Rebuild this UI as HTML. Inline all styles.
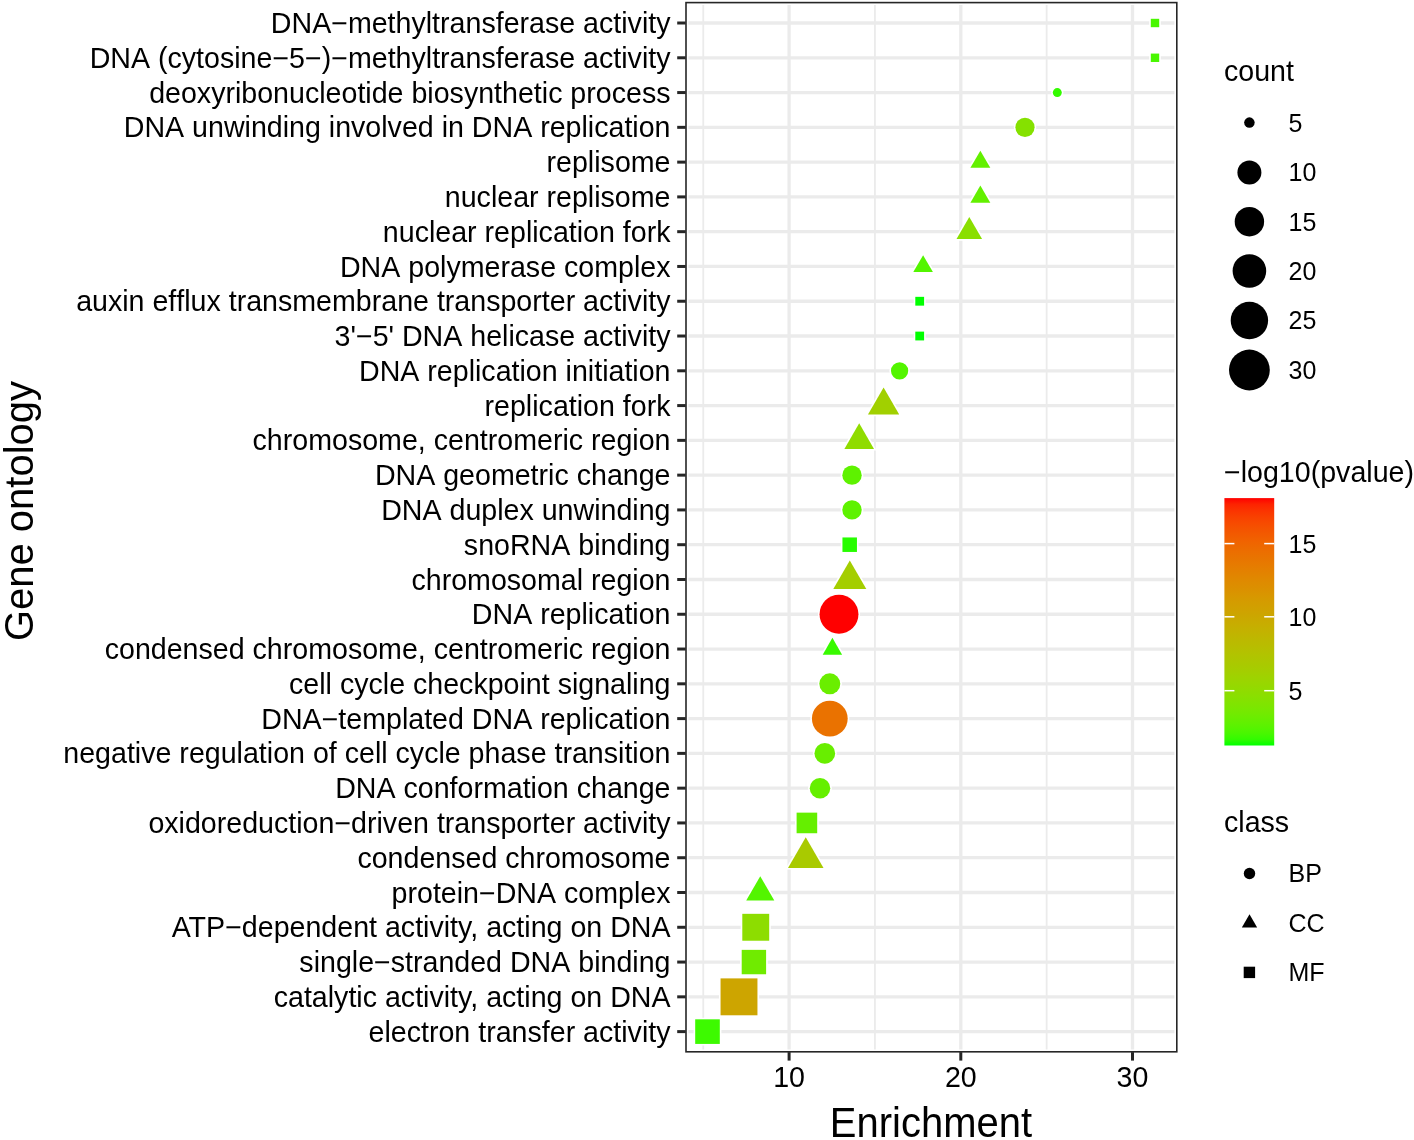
<!DOCTYPE html>
<html><head><meta charset="utf-8"><title>GO enrichment</title>
<style>html,body{margin:0;padding:0;background:#fff;width:1414px;height:1140px;overflow:hidden}svg{display:block;font-family:"Liberation Sans",sans-serif;will-change:transform;font-kerning:none;font-feature-settings:"kern" 0}</style>
</head><body><svg width="1414" height="1140" viewBox="0 0 1414 1140" font-family="'Liberation Sans', sans-serif" fill="#000"><defs><linearGradient id="cb" x1="0" y1="0" x2="0" y2="1"><stop offset="0.0000" stop-color="#ff0000"/><stop offset="0.0250" stop-color="#fd2300"/><stop offset="0.0500" stop-color="#fb3300"/><stop offset="0.0750" stop-color="#f94000"/><stop offset="0.1000" stop-color="#f74a00"/><stop offset="0.1250" stop-color="#f45300"/><stop offset="0.1500" stop-color="#f25b00"/><stop offset="0.1750" stop-color="#f06300"/><stop offset="0.2000" stop-color="#ed6a00"/><stop offset="0.2250" stop-color="#eb7000"/><stop offset="0.2500" stop-color="#e87600"/><stop offset="0.2750" stop-color="#e67c00"/><stop offset="0.3000" stop-color="#e38200"/><stop offset="0.3250" stop-color="#e08800"/><stop offset="0.3500" stop-color="#dd8d00"/><stop offset="0.3750" stop-color="#da9200"/><stop offset="0.4000" stop-color="#d79800"/><stop offset="0.4250" stop-color="#d39d00"/><stop offset="0.4500" stop-color="#d0a100"/><stop offset="0.4750" stop-color="#cca600"/><stop offset="0.5000" stop-color="#c9ab00"/><stop offset="0.5250" stop-color="#c5b000"/><stop offset="0.5500" stop-color="#c1b400"/><stop offset="0.5750" stop-color="#bcb900"/><stop offset="0.6000" stop-color="#b8bd00"/><stop offset="0.6250" stop-color="#b3c200"/><stop offset="0.6500" stop-color="#aec600"/><stop offset="0.6750" stop-color="#a9ca00"/><stop offset="0.7000" stop-color="#a4ce00"/><stop offset="0.7250" stop-color="#9ed300"/><stop offset="0.7500" stop-color="#98d700"/><stop offset="0.7750" stop-color="#91db00"/><stop offset="0.8000" stop-color="#8adf00"/><stop offset="0.8250" stop-color="#82e300"/><stop offset="0.8500" stop-color="#7ae700"/><stop offset="0.8750" stop-color="#70eb00"/><stop offset="0.9000" stop-color="#65ef00"/><stop offset="0.9250" stop-color="#59f300"/><stop offset="0.9500" stop-color="#49f700"/><stop offset="0.9750" stop-color="#33fb00"/><stop offset="1.0000" stop-color="#00ff00"/></linearGradient></defs><rect x="0" y="0" width="1414" height="1140" fill="#fff"/><line x1="703.25" y1="5.0" x2="703.25" y2="1049.3999999999999" stroke="#ebebeb" stroke-width="1.8"/><line x1="874.95" y1="5.0" x2="874.95" y2="1049.3999999999999" stroke="#ebebeb" stroke-width="1.8"/><line x1="1046.65" y1="5.0" x2="1046.65" y2="1049.3999999999999" stroke="#ebebeb" stroke-width="1.8"/><line x1="688.4000000000001" y1="23.00" x2="1174.3999999999999" y2="23.00" stroke="#ebebeb" stroke-width="3.3"/><line x1="688.4000000000001" y1="57.78" x2="1174.3999999999999" y2="57.78" stroke="#ebebeb" stroke-width="3.3"/><line x1="688.4000000000001" y1="92.56" x2="1174.3999999999999" y2="92.56" stroke="#ebebeb" stroke-width="3.3"/><line x1="688.4000000000001" y1="127.34" x2="1174.3999999999999" y2="127.34" stroke="#ebebeb" stroke-width="3.3"/><line x1="688.4000000000001" y1="162.12" x2="1174.3999999999999" y2="162.12" stroke="#ebebeb" stroke-width="3.3"/><line x1="688.4000000000001" y1="196.90" x2="1174.3999999999999" y2="196.90" stroke="#ebebeb" stroke-width="3.3"/><line x1="688.4000000000001" y1="231.68" x2="1174.3999999999999" y2="231.68" stroke="#ebebeb" stroke-width="3.3"/><line x1="688.4000000000001" y1="266.46" x2="1174.3999999999999" y2="266.46" stroke="#ebebeb" stroke-width="3.3"/><line x1="688.4000000000001" y1="301.24" x2="1174.3999999999999" y2="301.24" stroke="#ebebeb" stroke-width="3.3"/><line x1="688.4000000000001" y1="336.02" x2="1174.3999999999999" y2="336.02" stroke="#ebebeb" stroke-width="3.3"/><line x1="688.4000000000001" y1="370.80" x2="1174.3999999999999" y2="370.80" stroke="#ebebeb" stroke-width="3.3"/><line x1="688.4000000000001" y1="405.58" x2="1174.3999999999999" y2="405.58" stroke="#ebebeb" stroke-width="3.3"/><line x1="688.4000000000001" y1="440.36" x2="1174.3999999999999" y2="440.36" stroke="#ebebeb" stroke-width="3.3"/><line x1="688.4000000000001" y1="475.14" x2="1174.3999999999999" y2="475.14" stroke="#ebebeb" stroke-width="3.3"/><line x1="688.4000000000001" y1="509.92" x2="1174.3999999999999" y2="509.92" stroke="#ebebeb" stroke-width="3.3"/><line x1="688.4000000000001" y1="544.70" x2="1174.3999999999999" y2="544.70" stroke="#ebebeb" stroke-width="3.3"/><line x1="688.4000000000001" y1="579.48" x2="1174.3999999999999" y2="579.48" stroke="#ebebeb" stroke-width="3.3"/><line x1="688.4000000000001" y1="614.26" x2="1174.3999999999999" y2="614.26" stroke="#ebebeb" stroke-width="3.3"/><line x1="688.4000000000001" y1="649.04" x2="1174.3999999999999" y2="649.04" stroke="#ebebeb" stroke-width="3.3"/><line x1="688.4000000000001" y1="683.82" x2="1174.3999999999999" y2="683.82" stroke="#ebebeb" stroke-width="3.3"/><line x1="688.4000000000001" y1="718.60" x2="1174.3999999999999" y2="718.60" stroke="#ebebeb" stroke-width="3.3"/><line x1="688.4000000000001" y1="753.38" x2="1174.3999999999999" y2="753.38" stroke="#ebebeb" stroke-width="3.3"/><line x1="688.4000000000001" y1="788.16" x2="1174.3999999999999" y2="788.16" stroke="#ebebeb" stroke-width="3.3"/><line x1="688.4000000000001" y1="822.94" x2="1174.3999999999999" y2="822.94" stroke="#ebebeb" stroke-width="3.3"/><line x1="688.4000000000001" y1="857.72" x2="1174.3999999999999" y2="857.72" stroke="#ebebeb" stroke-width="3.3"/><line x1="688.4000000000001" y1="892.50" x2="1174.3999999999999" y2="892.50" stroke="#ebebeb" stroke-width="3.3"/><line x1="688.4000000000001" y1="927.28" x2="1174.3999999999999" y2="927.28" stroke="#ebebeb" stroke-width="3.3"/><line x1="688.4000000000001" y1="962.06" x2="1174.3999999999999" y2="962.06" stroke="#ebebeb" stroke-width="3.3"/><line x1="688.4000000000001" y1="996.84" x2="1174.3999999999999" y2="996.84" stroke="#ebebeb" stroke-width="3.3"/><line x1="688.4000000000001" y1="1031.62" x2="1174.3999999999999" y2="1031.62" stroke="#ebebeb" stroke-width="3.3"/><line x1="789.10" y1="5.0" x2="789.10" y2="1049.3999999999999" stroke="#ebebeb" stroke-width="3.3"/><line x1="960.80" y1="5.0" x2="960.80" y2="1049.3999999999999" stroke="#ebebeb" stroke-width="3.3"/><line x1="1132.50" y1="5.0" x2="1132.50" y2="1049.3999999999999" stroke="#ebebeb" stroke-width="3.3"/><rect x="1149.20" y="17.20" width="11.60" height="11.60" fill="#fff"/><rect x="1149.20" y="51.98" width="11.60" height="11.60" fill="#fff"/><circle cx="1057.30" cy="92.56" r="6.10" fill="#fff"/><circle cx="1025.00" cy="127.34" r="11.20" fill="#fff"/><polygon points="980.35,147.43 993.07,169.47 967.63,169.47" fill="#fff"/><polygon points="980.35,182.21 993.07,204.25 967.63,204.25" fill="#fff"/><polygon points="969.30,213.71 984.87,240.67 953.73,240.67" fill="#fff"/><polygon points="923.10,251.94 935.68,273.72 910.52,273.72" fill="#fff"/><rect x="913.70" y="295.24" width="12.00" height="12.00" fill="#fff"/><rect x="913.70" y="330.02" width="12.00" height="12.00" fill="#fff"/><circle cx="899.60" cy="370.80" r="10.25" fill="#fff"/><polygon points="883.60,384.34 901.99,416.20 865.21,416.20" fill="#fff"/><polygon points="859.20,420.05 876.79,450.51 841.61,450.51" fill="#fff"/><circle cx="852.00" cy="475.14" r="11.30" fill="#fff"/><circle cx="852.00" cy="509.92" r="11.30" fill="#fff"/><rect x="840.85" y="535.85" width="17.70" height="17.70" fill="#fff"/><polygon points="849.80,557.23 869.07,590.61 830.53,590.61" fill="#fff"/><circle cx="839.00" cy="614.26" r="21.05" fill="#fff"/><polygon points="832.40,634.64 844.87,656.24 819.93,656.24" fill="#fff"/><circle cx="829.80" cy="683.82" r="12.10" fill="#fff"/><circle cx="829.80" cy="718.60" r="19.50" fill="#fff"/><circle cx="824.80" cy="753.38" r="11.95" fill="#fff"/><circle cx="820.00" cy="788.16" r="11.85" fill="#fff"/><rect x="795.00" y="811.04" width="23.80" height="23.80" fill="#fff"/><polygon points="805.75,834.02 826.27,869.57 785.23,869.57" fill="#fff"/><polygon points="760.25,873.08 777.07,902.21 743.43,902.21" fill="#fff"/><rect x="740.70" y="912.23" width="30.10" height="30.10" fill="#fff"/><rect x="740.10" y="948.26" width="27.60" height="27.60" fill="#fff"/><rect x="718.95" y="976.79" width="40.10" height="40.10" fill="#fff"/><rect x="693.60" y="1017.72" width="27.80" height="27.80" fill="#fff"/><rect x="1150.80" y="18.80" width="8.40" height="8.40" fill="#49f700"/><rect x="1150.80" y="53.58" width="8.40" height="8.40" fill="#49f700"/><circle cx="1057.30" cy="92.56" r="4.50" fill="#33fb00"/><circle cx="1025.00" cy="127.34" r="9.60" fill="#85e100"/><polygon points="980.35,150.63 990.30,167.87 970.40,167.87" fill="#63f000"/><polygon points="980.35,185.41 990.30,202.65 970.40,202.65" fill="#63f000"/><polygon points="969.30,216.91 982.09,239.07 956.51,239.07" fill="#8adf00"/><polygon points="923.10,255.14 932.90,272.12 913.30,272.12" fill="#53f500"/><rect x="915.30" y="296.84" width="8.80" height="8.80" fill="#00ff00"/><rect x="915.30" y="331.62" width="8.80" height="8.80" fill="#00ff00"/><circle cx="899.60" cy="370.80" r="8.65" fill="#53f500"/><polygon points="883.60,387.54 899.22,414.60 867.98,414.60" fill="#a1d000"/><polygon points="859.20,423.25 874.01,448.91 844.39,448.91" fill="#90dc00"/><circle cx="852.00" cy="475.14" r="9.70" fill="#5ef200"/><circle cx="852.00" cy="509.92" r="9.70" fill="#5ef200"/><rect x="842.45" y="537.45" width="14.50" height="14.50" fill="#27fd00"/><polygon points="849.80,560.43 866.30,589.01 833.30,589.01" fill="#a4ce00"/><circle cx="839.00" cy="614.26" r="19.45" fill="#ff0000"/><polygon points="832.40,637.84 842.10,654.64 822.70,654.64" fill="#38fa00"/><circle cx="829.80" cy="683.82" r="10.50" fill="#6aee00"/><circle cx="829.80" cy="718.60" r="17.90" fill="#ea7200"/><circle cx="824.80" cy="753.38" r="10.35" fill="#68ee00"/><circle cx="820.00" cy="788.16" r="10.25" fill="#65ef00"/><rect x="796.60" y="812.64" width="20.60" height="20.60" fill="#65ef00"/><polygon points="805.75,837.22 823.50,867.97 788.00,867.97" fill="#a9ca00"/><polygon points="760.25,876.28 774.30,900.61 746.20,900.61" fill="#53f500"/><rect x="742.30" y="913.83" width="26.90" height="26.90" fill="#8ddd00"/><rect x="741.70" y="949.86" width="24.40" height="24.40" fill="#70eb00"/><rect x="720.55" y="978.39" width="36.90" height="36.90" fill="#cda500"/><rect x="695.20" y="1019.32" width="24.60" height="24.60" fill="#3dfa00"/><rect x="686.00" y="2.60" width="490.80" height="1049.20" fill="none" stroke="#262626" stroke-width="1.6"/><line x1="677.2" y1="23.00" x2="685.7" y2="23.00" stroke="#262626" stroke-width="3"/><line x1="677.2" y1="57.78" x2="685.7" y2="57.78" stroke="#262626" stroke-width="3"/><line x1="677.2" y1="92.56" x2="685.7" y2="92.56" stroke="#262626" stroke-width="3"/><line x1="677.2" y1="127.34" x2="685.7" y2="127.34" stroke="#262626" stroke-width="3"/><line x1="677.2" y1="162.12" x2="685.7" y2="162.12" stroke="#262626" stroke-width="3"/><line x1="677.2" y1="196.90" x2="685.7" y2="196.90" stroke="#262626" stroke-width="3"/><line x1="677.2" y1="231.68" x2="685.7" y2="231.68" stroke="#262626" stroke-width="3"/><line x1="677.2" y1="266.46" x2="685.7" y2="266.46" stroke="#262626" stroke-width="3"/><line x1="677.2" y1="301.24" x2="685.7" y2="301.24" stroke="#262626" stroke-width="3"/><line x1="677.2" y1="336.02" x2="685.7" y2="336.02" stroke="#262626" stroke-width="3"/><line x1="677.2" y1="370.80" x2="685.7" y2="370.80" stroke="#262626" stroke-width="3"/><line x1="677.2" y1="405.58" x2="685.7" y2="405.58" stroke="#262626" stroke-width="3"/><line x1="677.2" y1="440.36" x2="685.7" y2="440.36" stroke="#262626" stroke-width="3"/><line x1="677.2" y1="475.14" x2="685.7" y2="475.14" stroke="#262626" stroke-width="3"/><line x1="677.2" y1="509.92" x2="685.7" y2="509.92" stroke="#262626" stroke-width="3"/><line x1="677.2" y1="544.70" x2="685.7" y2="544.70" stroke="#262626" stroke-width="3"/><line x1="677.2" y1="579.48" x2="685.7" y2="579.48" stroke="#262626" stroke-width="3"/><line x1="677.2" y1="614.26" x2="685.7" y2="614.26" stroke="#262626" stroke-width="3"/><line x1="677.2" y1="649.04" x2="685.7" y2="649.04" stroke="#262626" stroke-width="3"/><line x1="677.2" y1="683.82" x2="685.7" y2="683.82" stroke="#262626" stroke-width="3"/><line x1="677.2" y1="718.60" x2="685.7" y2="718.60" stroke="#262626" stroke-width="3"/><line x1="677.2" y1="753.38" x2="685.7" y2="753.38" stroke="#262626" stroke-width="3"/><line x1="677.2" y1="788.16" x2="685.7" y2="788.16" stroke="#262626" stroke-width="3"/><line x1="677.2" y1="822.94" x2="685.7" y2="822.94" stroke="#262626" stroke-width="3"/><line x1="677.2" y1="857.72" x2="685.7" y2="857.72" stroke="#262626" stroke-width="3"/><line x1="677.2" y1="892.50" x2="685.7" y2="892.50" stroke="#262626" stroke-width="3"/><line x1="677.2" y1="927.28" x2="685.7" y2="927.28" stroke="#262626" stroke-width="3"/><line x1="677.2" y1="962.06" x2="685.7" y2="962.06" stroke="#262626" stroke-width="3"/><line x1="677.2" y1="996.84" x2="685.7" y2="996.84" stroke="#262626" stroke-width="3"/><line x1="677.2" y1="1031.62" x2="685.7" y2="1031.62" stroke="#262626" stroke-width="3"/><line x1="789.10" y1="1052.1" x2="789.10" y2="1060.6" stroke="#262626" stroke-width="3"/><line x1="960.80" y1="1052.1" x2="960.80" y2="1060.6" stroke="#262626" stroke-width="3"/><line x1="1132.50" y1="1052.1" x2="1132.50" y2="1060.6" stroke="#262626" stroke-width="3"/><text x="670.5" y="33.10" text-anchor="end" font-size="28.6">DNA−methyltransferase activity</text><text x="670.5" y="67.88" text-anchor="end" font-size="28.6">DNA (cytosine−5−)−methyltransferase activity</text><text x="670.5" y="102.66" text-anchor="end" font-size="28.6">deoxyribonucleotide biosynthetic process</text><text x="670.5" y="137.44" text-anchor="end" font-size="28.6">DNA unwinding involved in DNA replication</text><text x="670.5" y="172.22" text-anchor="end" font-size="28.6">replisome</text><text x="670.5" y="207.00" text-anchor="end" font-size="28.6">nuclear replisome</text><text x="670.5" y="241.78" text-anchor="end" font-size="28.6">nuclear replication fork</text><text x="670.5" y="276.56" text-anchor="end" font-size="28.6">DNA polymerase complex</text><text x="670.5" y="311.34" text-anchor="end" font-size="28.6">auxin efflux transmembrane transporter activity</text><text x="670.5" y="346.12" text-anchor="end" font-size="28.6">3'−5' DNA helicase activity</text><text x="670.5" y="380.90" text-anchor="end" font-size="28.6">DNA replication initiation</text><text x="670.5" y="415.68" text-anchor="end" font-size="28.6">replication fork</text><text x="670.5" y="450.46" text-anchor="end" font-size="28.6">chromosome, centromeric region</text><text x="670.5" y="485.24" text-anchor="end" font-size="28.6">DNA geometric change</text><text x="670.5" y="520.02" text-anchor="end" font-size="28.6">DNA duplex unwinding</text><text x="670.5" y="554.80" text-anchor="end" font-size="28.6">snoRNA binding</text><text x="670.5" y="589.58" text-anchor="end" font-size="28.6">chromosomal region</text><text x="670.5" y="624.36" text-anchor="end" font-size="28.6">DNA replication</text><text x="670.5" y="659.14" text-anchor="end" font-size="28.6">condensed chromosome, centromeric region</text><text x="670.5" y="693.92" text-anchor="end" font-size="28.6">cell cycle checkpoint signaling</text><text x="670.5" y="728.70" text-anchor="end" font-size="28.6">DNA−templated DNA replication</text><text x="670.5" y="763.48" text-anchor="end" font-size="28.6">negative regulation of cell cycle phase transition</text><text x="670.5" y="798.26" text-anchor="end" font-size="28.6">DNA conformation change</text><text x="670.5" y="833.04" text-anchor="end" font-size="28.6">oxidoreduction−driven transporter activity</text><text x="670.5" y="867.82" text-anchor="end" font-size="28.6">condensed chromosome</text><text x="670.5" y="902.60" text-anchor="end" font-size="28.6">protein−DNA complex</text><text x="670.5" y="937.38" text-anchor="end" font-size="28.6">A<tspan dx="-2.12">T</tspan>P−dependent activity<tspan dx="-2.12">,</tspan> acting on DNA</text><text x="670.5" y="972.16" text-anchor="end" font-size="28.6">single−stranded DNA binding</text><text x="670.5" y="1006.94" text-anchor="end" font-size="28.6">catalytic activity<tspan dx="-2.12">,</tspan> acting on DNA</text><text x="670.5" y="1041.72" text-anchor="end" font-size="28.6">electron transfer activity</text><text x="789.10" y="1087.2" text-anchor="middle" font-size="28.6">10</text><text x="960.80" y="1087.2" text-anchor="middle" font-size="28.6">20</text><text x="1132.50" y="1087.2" text-anchor="middle" font-size="28.6">30</text><text x="931" y="1136.6" text-anchor="middle" font-size="40" transform="translate(931 1136.6) scale(1 1.075) translate(-931 -1136.6)">Enrichment</text><text transform="translate(33.2 511) rotate(-90)" x="0" y="0" text-anchor="middle" font-size="40">Gene ontology</text><text x="1224.0" y="81.1" font-size="28.6">count</text><circle cx="1249.4" cy="122.6" r="5.25" fill="#000"/><text x="1288.5" y="131.50" font-size="25">5</text><circle cx="1249.4" cy="172.4" r="12.0" fill="#000"/><text x="1288.5" y="181.30" font-size="25">10</text><circle cx="1249.4" cy="221.7" r="14.7" fill="#000"/><text x="1288.5" y="230.60" font-size="25">15</text><circle cx="1249.4" cy="271.0" r="16.8" fill="#000"/><text x="1288.5" y="279.90" font-size="25">20</text><circle cx="1249.4" cy="320.5" r="18.7" fill="#000"/><text x="1288.5" y="329.40" font-size="25">25</text><circle cx="1249.4" cy="370.0" r="20.4" fill="#000"/><text x="1288.5" y="378.90" font-size="25">30</text><text x="1224.0" y="481.5" font-size="28.6">−log10(pvalue)</text><rect x="1224.4" y="498.1" width="49.80" height="247.40" fill="url(#cb)"/><line x1="1224.4" y1="543.6" x2="1234.4" y2="543.6" stroke="#fff" stroke-width="1.5"/><line x1="1264.2" y1="543.6" x2="1274.2" y2="543.6" stroke="#fff" stroke-width="1.5"/><text x="1288.5" y="552.50" font-size="25">15</text><line x1="1224.4" y1="616.8" x2="1234.4" y2="616.8" stroke="#fff" stroke-width="1.5"/><line x1="1264.2" y1="616.8" x2="1274.2" y2="616.8" stroke="#fff" stroke-width="1.5"/><text x="1288.5" y="625.70" font-size="25">10</text><line x1="1224.4" y1="690.7" x2="1234.4" y2="690.7" stroke="#fff" stroke-width="1.5"/><line x1="1264.2" y1="690.7" x2="1274.2" y2="690.7" stroke="#fff" stroke-width="1.5"/><text x="1288.5" y="699.60" font-size="25">5</text><text x="1224.0" y="831.6" font-size="28.6">class</text><circle cx="1249.50" cy="873.50" r="5.70" fill="#000"/><text x="1288.5" y="882.40" font-size="25">BP</text><polygon points="1249.50,914.17 1257.15,927.42 1241.85,927.42" fill="#000"/><text x="1288.5" y="931.90" font-size="25">CC</text><rect x="1243.70" y="966.70" width="11.40" height="11.40" fill="#000"/><text x="1288.5" y="981.30" font-size="25">MF</text></svg></body></html>
